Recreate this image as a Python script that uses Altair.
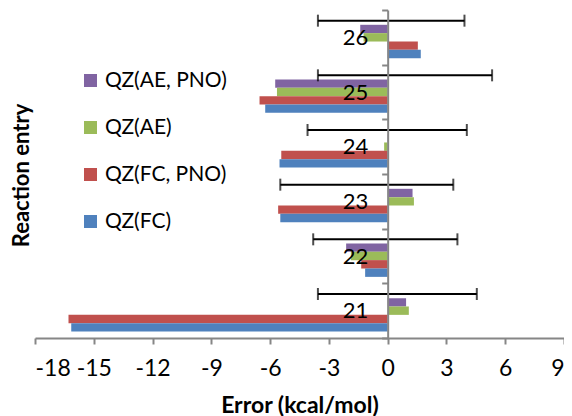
import altair as alt
import pandas as pd

entries = ["26", "25", "24", "23", "22", "21"]
series = ["QZ(AE, PNO)", "QZ(AE)", "QZ(FC, PNO)", "QZ(FC)"]
colors = ["#8064A2", "#9BBB59", "#C0504D", "#4F81BD"]

# values per entry (order 26..21)
qz_ae_pno = [-1.40, -5.74, 0.05, 1.27, -2.12, 0.94]
qz_ae = [-1.23, -5.65, -0.18, 1.34, -1.88, 1.08]
qz_fc_pno = [1.54, -6.54, -5.43, -5.59, -1.35, -16.29]
qz_fc = [1.69, -6.25, -5.52, -5.48, -1.15, -16.15]
err_lo = [-3.56, -3.56, -4.09, -5.48, -3.80, -3.56]
err_hi = [3.92, 5.33, 4.04, 3.35, 3.56, 4.55]

x_ticks = [-18, -15, -12, -9, -6, -3, 0, 3, 6, 9]

rows = []
for name, vals in zip(series, [qz_ae_pno, qz_ae, qz_fc_pno, qz_fc]):
    for e, v in zip(entries, vals):
        rows.append({"entry": e, "series": name, "value": v})
bars_df = pd.DataFrame(rows)
err_df = pd.DataFrame({"entry": entries, "series": ["err"] * len(entries),
                       "lo": err_lo, "hi": err_hi})

W, H = 529, 328
XMIN, XMAX = -18, 9
zero_off = -(0 - XMIN) / (XMAX - XMIN) * W
FONT = "Lato"
GRAY = "#868686"

slot_domain = ["err"] + series
y_scale = alt.Scale(domain=entries, paddingInner=0, paddingOuter=0)
y_axis = alt.Axis(title="Reaction entry", offset=zero_off, tickBand="extent",
                  domainColor=GRAY, domainWidth=2, tickColor=GRAY, tickWidth=2, tickSize=6,
                  labelFont=FONT, labelFontSize=22, labelColor="black", labelPadding=14,
                  labelAngle=0, zindex=1,
                  titleFont=FONT, titleFontSize=22, titleFontWeight="bold", titleColor="black",
                  titleX=-14 + zero_off, titleY=165, titleAngle=-90,
                  titleAlign="center", titleBaseline="middle")
x_axis = alt.Axis(values=x_ticks, title="Error (kcal/mol)", grid=False,
                  labelExpr="datum.value < 0 ? '-' + abs(datum.value) : '' + datum.value",
                  domainColor=GRAY, domainWidth=2, tickColor=GRAY, tickWidth=2, tickSize=6,
                  labelFont=FONT, labelFontSize=23, labelColor="black", labelPadding=13,
                  titleFont=FONT, titleFontSize=23, titleFontWeight="bold", titleColor="black",
                  titlePadding=14)
yoff = alt.YOffset("series:N", scale=alt.Scale(domain=slot_domain, paddingInner=0, paddingOuter=0.78))
x_scale = alt.Scale(domain=[XMIN, XMAX], nice=False, zero=False)


def y_enc():
    return alt.Y("entry:N", sort=entries, scale=y_scale, axis=y_axis)


bars = alt.Chart(bars_df).mark_bar(size=8.4).encode(
    x=alt.X("value:Q", scale=x_scale, axis=x_axis),
    x2=alt.datum(0),
    y=y_enc(),
    yOffset=yoff,
    color=alt.Color("series:N", scale=alt.Scale(domain=series, range=colors),
                    legend=alt.Legend(title=None, orient="none", legendX=45, legendY=60,
                                      symbolType="square", symbolSize=170, symbolStrokeWidth=0,
                                      labelFont=FONT, labelFontSize=21, labelColor="black",
                                      rowPadding=25, labelOffset=4)),
)

rule = alt.Chart(err_df).mark_rule(color="black", strokeWidth=2).encode(
    x=alt.X("lo:Q", scale=x_scale, axis=x_axis), x2="hi:Q",
    y=y_enc(), yOffset=yoff)
cap_lo = alt.Chart(err_df).mark_tick(color="black", thickness=2, size=12).encode(
    x=alt.X("lo:Q", scale=x_scale, axis=x_axis), y=y_enc(), yOffset=yoff)
cap_hi = alt.Chart(err_df).mark_tick(color="black", thickness=2, size=12).encode(
    x=alt.X("hi:Q", scale=x_scale, axis=x_axis), y=y_enc(), yOffset=yoff)

chart = alt.layer(bars, rule, cap_lo, cap_hi).properties(
    width=W, height=H,
    autosize=alt.AutoSizeParams(type="none"),
    padding={"left": 27, "top": 2, "right": 0, "bottom": 78},
    background="white",
).configure_view(stroke=None)

chart.save("out.html", embed_options={"renderer": "svg", "actions": False})
